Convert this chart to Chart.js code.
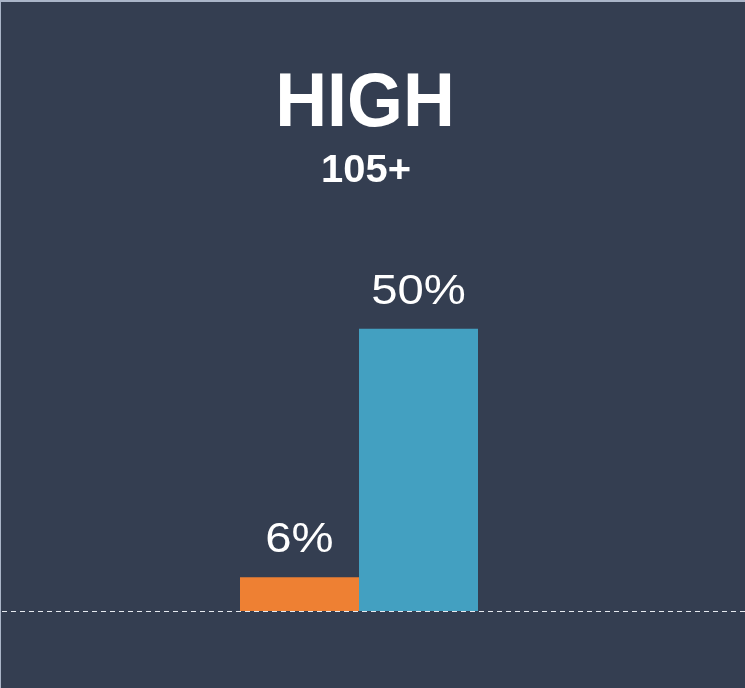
<!DOCTYPE html>
<html>
<head>
<meta charset="utf-8">
<script src="https://cdn.jsdelivr.net/npm/chart.js@4/dist/chart.umd.min.js"></script>
<style>
  html, body { margin: 0; padding: 0; background: #343e51; }
  #wrap { position: relative; width: 745px; height: 688px; }
</style>
</head>
<body>
<div id="wrap"><canvas id="chart"></canvas></div>
<script>
// Values for the single "HIGH" group
const categories = ['HIGH'];
const seriesNames = ['Group A', 'Group B'];
const seriesA = [6];
const seriesB = [50];
const heading = 'HIGH';
const subHeading = '105+';

const BG = '#343e51';
const FONT = '"Liberation Sans", Arial, sans-serif';

// centred text with a little horizontal stretch
function drawText(ctx, text, x, y, font, sx) {
  ctx.save();
  ctx.translate(x, y);
  ctx.scale(sx, 1);
  ctx.font = font;
  ctx.fillText(text, 0, 0);
  ctx.restore();
}

// Heading text, frame edge and dashed baseline
const decorPlugin = {
  id: 'decor',
  beforeDraw(chart) {
    const ctx = chart.ctx;
    ctx.save();
    ctx.fillStyle = BG;
    ctx.fillRect(0, 0, chart.width, chart.height);
    ctx.fillStyle = '#aab5c8';
    ctx.fillRect(0, 0, chart.width, 2);
    ctx.fillRect(0, 0, 1, chart.height);

    ctx.fillStyle = '#ffffff';
    ctx.textAlign = 'center';
    ctx.textBaseline = 'alphabetic';
    drawText(ctx, heading, 365, 126, 'bold 76px ' + FONT, 0.945);
    drawText(ctx, subHeading, 366, 182, 'bold 38px ' + FONT, 1.05);
    ctx.restore();
  },
  beforeDatasetsDraw(chart) {
    const ctx = chart.ctx;
    const y = Math.round(chart.scales.y.getPixelForValue(0)) + 0.5;
    ctx.save();
    ctx.strokeStyle = '#e6eaf0';
    ctx.lineWidth = 1;
    ctx.setLineDash([5, 4]);
    ctx.beginPath();
    ctx.moveTo(2, y);
    ctx.lineTo(chart.width, y);
    ctx.stroke();
    ctx.restore();
  },
  afterDatasetsDraw(chart) {
    const ctx = chart.ctx;
    ctx.save();
    ctx.fillStyle = '#ffffff';
    ctx.textAlign = 'center';
    ctx.textBaseline = 'alphabetic';
    chart.data.datasets.forEach((ds, i) => {
      chart.getDatasetMeta(i).data.forEach((bar, j) => {
        drawText(ctx, ds.data[j] + '%', bar.x, bar.y - 25, '43px ' + FONT, 1.1);
      });
    });
    ctx.restore();
  }
};

new Chart(document.getElementById('chart'), {
  type: 'bar',
  data: {
    labels: categories,
    datasets: [
      {
        label: seriesNames[0],
        data: seriesA,
        backgroundColor: '#ee8033',
        barPercentage: 1,
        categoryPercentage: 238 / 718
      },
      {
        label: seriesNames[1],
        data: seriesB,
        backgroundColor: '#43a0c1',
        barPercentage: 1,
        categoryPercentage: 238 / 718
      }
    ]
  },
  options: {
    responsive: true,
    maintainAspectRatio: false,
    animation: false,
    layout: { padding: { left: 0, right: 27, top: 216, bottom: 77 } },
    plugins: {
      legend: { display: false },
      tooltip: { enabled: false }
    },
    scales: {
      x: { display: false },
      y: { display: false, min: 0, max: 70 }
    }
  },
  plugins: [decorPlugin]
});
</script>
</body>
</html>
